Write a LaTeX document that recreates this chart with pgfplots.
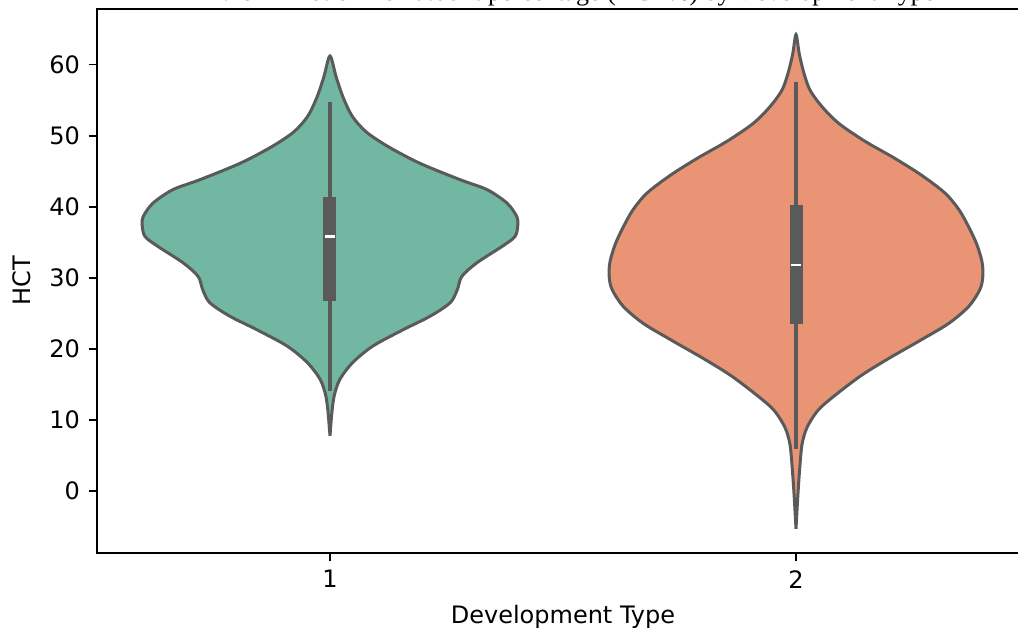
\documentclass[border=0pt]{standalone}
\usepackage{pgfplots}
\pgfplotsset{compat=1.18}
\usepackage{fontspec}
\setmainfont{DejaVu Sans}
\newfontfamily\titlefont{Liberation Serif}
\definecolor{vgreen}{HTML}{71B7A1}
\definecolor{vorange}{HTML}{E99575}
\definecolor{vgray}{HTML}{5A5A5A}
\begin{document}
\begin{tikzpicture}
\begin{axis}[name=ax, scale only axis, width=466pt, height=272pt,
  xmin=-0.5, xmax=1.5, ymin=-8.7, ymax=67.8,
  xtick={0,1}, xticklabels={1,2}, ytick={0,10,...,60},
  tick align=outside, tick pos=left, major tick length=4.2pt,
  every tick/.style={black, line width=0.96pt},
  axis line style={line width=0.96pt},
  /pgf/number format/assume math mode=true,
  tick label style={font=\fontsize{12}{14}\selectfont},
  label style={font=\fontsize{12}{14}\selectfont},
  xlabel={Development Type}, ylabel={HCT},
  xlabel style={at={(axis description cs:0.5,0)}, anchor=center, yshift=-32pt},
  ylabel style={at={(axis description cs:0,0.5)}, anchor=center, rotate=0, yshift=37.5pt},
  xticklabel style={inner sep=0pt, yshift=-4.2pt},
  yticklabel style={inner sep=0pt, xshift=-4.2pt},
]
% violin 1
\addplot[draw=vgray, fill=vgreen, line width=1.5pt, smooth, tension=0.5] coordinates {
(0,7.8) (0.004,11.0) (0.009,13.4) (0.021,15.7) (0.049,18.1) (0.092,20.4) (0.157,22.7) (0.215,24.6) (0.258,26.5) (0.273,28.3) (0.283,30.2) (0.315,32.1) (0.369,34.4) (0.397,35.8) (0.403,37.4) (0.401,38.6) (0.380,40.5) (0.337,42.4) (0.279,43.8) (0.193,46.1) (0.126,48.4) (0.078,50.5) (0.048,52.7) (0.028,55.4) (0.013,58.3) (0,61.2)
(-0.013,58.3) (-0.028,55.4) (-0.048,52.7) (-0.078,50.5) (-0.126,48.4) (-0.193,46.1) (-0.279,43.8) (-0.337,42.4) (-0.380,40.5) (-0.401,38.6) (-0.403,37.4) (-0.397,35.8) (-0.369,34.4) (-0.315,32.1) (-0.283,30.2) (-0.273,28.3) (-0.258,26.5) (-0.215,24.6) (-0.157,22.7) (-0.092,20.4) (-0.049,18.1) (-0.021,15.7) (-0.009,13.4) (-0.004,11.0)
} -- cycle;
% violin 2
\addplot[draw=vgray, fill=vorange, line width=1.5pt, smooth, tension=0.5] coordinates {
(1,-5.3) (1.004,-0.6) (1.008,3.2) (1.013,6.6) (1.024,9.0) (1.049,11.5) (1.092,13.9) (1.142,16.35) (1.200,18.7) (1.264,21.1) (1.328,23.6) (1.371,26.0) (1.395,28.4) (1.401,30.3) (1.399,32.3) (1.388,34.7) (1.371,37.1) (1.350,39.55) (1.320,41.9) (1.270,44.4) (1.212,46.8) (1.148,49.2) (1.092,51.7) (1.056,54.05) (1.030,56.4) (1.0165,58.9) (1.007,61.5) (1,64.2)
(0.993,61.5) (0.9835,58.9) (0.970,56.4) (0.944,54.05) (0.908,51.7) (0.852,49.2) (0.788,46.8) (0.730,44.4) (0.680,41.9) (0.650,39.55) (0.629,37.1) (0.612,34.7) (0.601,32.3) (0.599,30.3) (0.605,28.4) (0.629,26.0) (0.672,23.6) (0.736,21.1) (0.800,18.7) (0.858,16.35) (0.908,13.9) (0.951,11.5) (0.976,9.0) (0.987,6.6) (0.992,3.2) (0.996,-0.6)
} -- cycle;
% box 1
\addplot[draw=vgray, line width=2pt] coordinates {(0,14.1) (0,54.7)};
\addplot[draw=vgray, line width=6.5pt] coordinates {(0,26.8) (0,41.4)};
\addplot[draw=white, line width=1.4pt] coordinates {(-0.0107,35.8) (0.0107,35.8)};
% box 2
\addplot[draw=vgray, line width=2pt] coordinates {(1,5.9) (1,57.6)};
\addplot[draw=vgray, line width=6.5pt] coordinates {(1,23.5) (1,40.3)};
\addplot[draw=white, line width=1.4pt] coordinates {(0.9893,31.8) (1.0107,31.8)};
\end{axis}
\node[anchor=base, font=\titlefont\fontsize{13}{15}\selectfont] at ([xshift=239.5pt,yshift=4.25pt]ax.north west) {Violin Plot of Hematocrit percentage (HCT\%) by Development Type};
\pgfresetboundingbox
\path[use as bounding box] ([xshift=-48.5pt,yshift=-40.5pt]ax.south west) rectangle ([xshift=460.5pt,yshift=4.5pt]ax.north west);
\end{tikzpicture}
\end{document}
